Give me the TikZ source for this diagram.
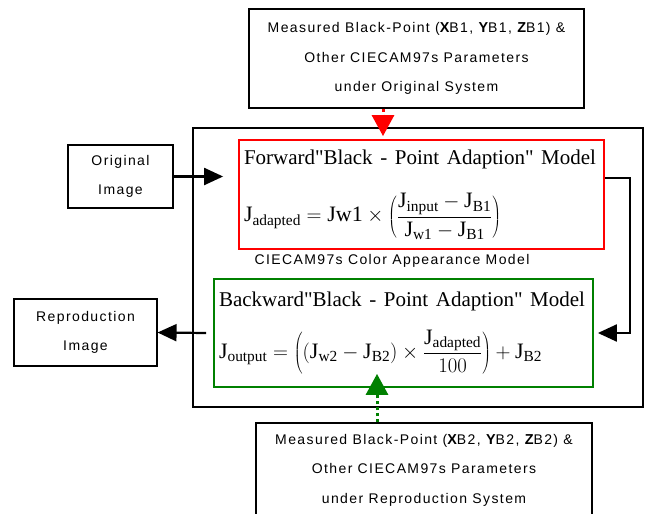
\documentclass[tikz,border=0pt]{standalone}
\usepackage{fontspec}
\setmainfont{Liberation Serif}
\newfontfamily\labelfont[LetterSpace=10]{Liberation Sans}
\usepackage{xcolor}
\usepackage{tikz}
\usetikzlibrary{arrows.meta, positioning}
\definecolor{fwdred}{RGB}{255,0,0}
\definecolor{bwdgreen}{RGB}{0,128,0}
\newcommand{\modeltitle}[2]{{\fontsize{21}{24}\selectfont\spaceskip=0.25em plus 1fil\relax\hbox to #1{#2}}}
\tikzstyle{iobox}    = [rectangle, draw, line width=1.1pt, align=center, inner sep=0pt, font=\labelfont\fontsize{14}{29.5}\selectfont]
\tikzstyle{modelbox} = [rectangle, draw, line width=1.8pt, inner xsep=5pt, align=left, font=\fontsize{22}{26}\selectfont]
\tikzstyle{arrow}    = [-{Triangle[length=19pt,width=17pt]}, line width=2.2pt]
\tikzstyle{dotarrow} = [-{Triangle[length=21pt,width=22pt]}, line width=3pt, dash pattern=on 3pt off 3pt]

\begin{document}
\begin{tikzpicture}[x=1pt, y=-1pt]
    \useasboundingbox (0,0) rectangle (646,514);
    \clip (0,0) rectangle (646,514);

    \node (cam) [rectangle, draw, line width=2.2pt, minimum width=450, minimum height=279] at (418,267.5) {};
    \node (orig) [iobox, minimum width=105, minimum height=63] at (120.5,176.5) {Original\\Image};
    \node (repro) [iobox, minimum width=143, minimum height=67] at (85.5,332.5) {Reproduction\\Image};
    \node (srcpar) [iobox, minimum width=335, minimum height=99] at (416.5,58.5)
        {Measured Black-Point ({\Large\bfseries X}B1, {\Large\bfseries Y}B1, {\Large\bfseries Z}B1) \&\\Other CIECAM97s Parameters\\under Original System};
    \node (dstpar) [iobox, minimum width=336, minimum height=94] at (424,470)
        {Measured Black-Point ({\Large\bfseries X}B2, {\Large\bfseries Y}B2, {\Large\bfseries Z}B2) \&\\Other CIECAM97s Parameters\\under Reproduction System};

    \node (fwd) [modelbox, draw=fwdred, text width=355, minimum height=109] at (421.5,194.5)
        {\modeltitle{352pt}{Forward\textquotedbl Black - Point Adaption\textquotedbl{} Model}\\[24pt]
         $\displaystyle\mathrm{J}_{\mathrm{adapted}} = \mathrm{Jw1} \times \left(\frac{\mathrm{J}_{\mathrm{input}} - \mathrm{J}_{\mathrm{B1}}}{\mathrm{J}_{\mathrm{w1}} - \mathrm{J}_{\mathrm{B1}}}\right)$};
    \node (camlabel) [font=\labelfont\fontsize{14}{16}\selectfont] at (392,261) {CIECAM97s Color Appearance Model};
    \node (bwd) [modelbox, draw=bwdgreen, text width=369, minimum height=108] at (403.5,333)
        {\modeltitle{366pt}{Backward\textquotedbl Black - Point Adaption\textquotedbl{} Model}\\[18pt]
         $\displaystyle\mathrm{J}_{\mathrm{output}} = \left((\mathrm{J}_{\mathrm{w2}} - \mathrm{J}_{\mathrm{B2}}) \times \frac{\mathrm{J}_{\mathrm{adapted}}}{100}\right) + \mathrm{J}_{\mathrm{B2}}$};

    \draw [arrow] (orig.east) -- ([xshift=-15pt]orig.east -| fwd.west);
    \draw [arrow] ([yshift=16.5pt]fwd.east) -- ++(25,0) |- ([xshift=4pt]bwd.east);
    \draw [arrow] ([xshift=-7pt]bwd.west) -- (repro.east);

    \draw [dotarrow, fwdred] ([xshift=-33.5pt]srcpar.south) -- ([xshift=-38.5pt, yshift=3pt]fwd.north);
    \draw [dotarrow, bwdgreen] ([xshift=-47pt]dstpar.north) -- ([xshift=-26.5pt, yshift=14pt]bwd.south);
  \end{tikzpicture}
\end{document}
